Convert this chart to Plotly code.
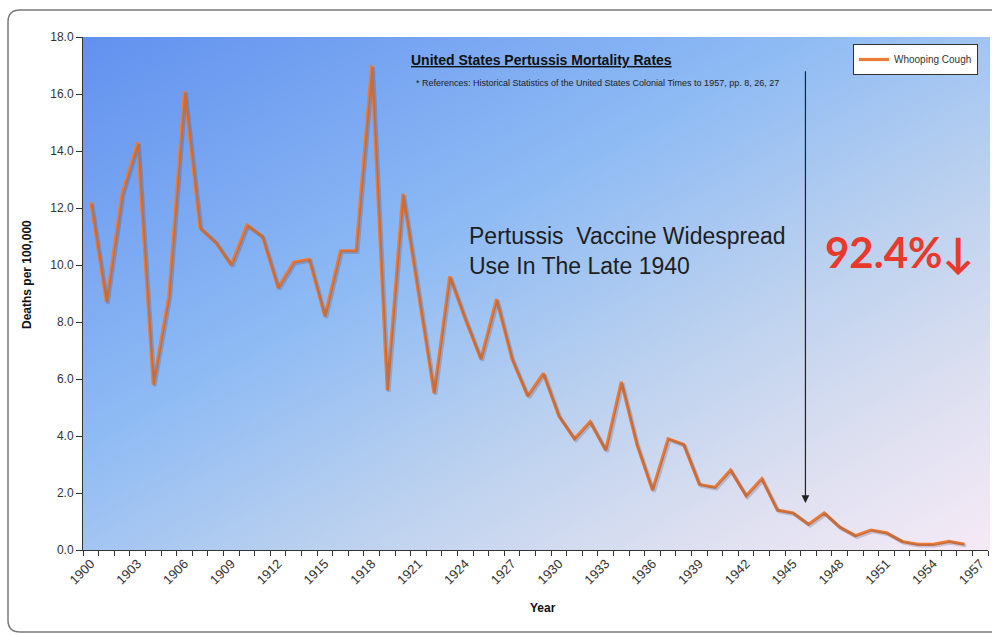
import base64
import plotly.graph_objects as go

# US pertussis (whooping cough) deaths per 100,000 population, 1900-1956
years = list(range(1900, 1957))
deaths = [
    12.2, 8.7, 12.5, 14.3, 5.8, 8.9, 16.1, 11.3, 10.8, 10.0,
    11.4, 11.0, 9.2, 10.1, 10.2, 8.2, 10.5, 10.5, 17.0, 5.6,
    12.5, 9.0, 5.5, 9.6, 8.1, 6.7, 8.8, 6.7, 5.4, 6.2,
    4.7, 3.9, 4.5, 3.5, 5.9, 3.7, 2.1, 3.9, 3.7, 2.3,
    2.2, 2.8, 1.9, 2.5, 1.4, 1.3, 0.9, 1.3, 0.8, 0.5,
    0.7, 0.6, 0.3, 0.2, 0.2, 0.3, 0.2,
]
tick_years = list(range(1900, 1958, 3))
y_ticks = [0, 2, 4, 6, 8, 10, 12, 14, 16, 18]

series_name = "Whooping Cough"
vaccine_year = 1945.8
arrow_top, arrow_bottom = 16.85, 1.65

FONT = "Liberation Sans, Arial, sans-serif"
LINE = "#EE7B35"
X_RANGE = [1899.5, 1957.5]
Y_RANGE = [0, 18]

# diagonal blue-to-lavender backdrop for the plotting area
svg = (
    '<svg xmlns="http://www.w3.org/2000/svg" width="905" height="513" '
    'viewBox="0 0 905 513" preserveAspectRatio="none">'
    '<defs><linearGradient id="g" x1="0" y1="0" x2="1" y2="1">'
    '<stop offset="0" stop-color="#6191ef"/>'
    '<stop offset="0.40" stop-color="#8fbbf4"/>'
    '<stop offset="0.62" stop-color="#b9d0ef"/>'
    '<stop offset="0.82" stop-color="#dcdff0"/>'
    '<stop offset="1" stop-color="#f6eaf6"/>'
    '</linearGradient></defs>'
    '<rect width="905" height="513" fill="url(#g)"/></svg>'
)
bg_uri = "data:image/svg+xml;base64," + base64.b64encode(svg.encode()).decode()

fig = go.Figure()

# soft drop shadow: the same series on overlay axes nudged ~1.5px right/down
fig.add_trace(go.Scatter(
    x=years, y=deaths, mode="lines", xaxis="x2", yaxis="y2",
    line=dict(color="rgba(60,60,90,0.22)", width=3.5),
    showlegend=False, hoverinfo="skip",
))
fig.add_trace(go.Scatter(
    x=years, y=deaths, mode="lines", name=series_name,
    line=dict(color=LINE, width=3.2),
))

# rounded outer frame in paper coordinates
W, H = 905.0, 513.0
def px(xp):
    return (xp - 83) / W
def py(yp):
    return (550 - yp) / H
x0, x1, y0, y1 = px(8), px(1010), py(10), py(632)
rx, ry = 12 / W, 12 / H
frame = (
    f"M {x0+rx},{y0} L {x1},{y0} L {x1},{y1} L {x0+rx},{y1} "
    f"Q {x0},{y1} {x0},{y1+ry} L {x0},{y0-ry} Q {x0},{y0} {x0+rx},{y0} Z"
)

fig.update_layout(
    width=992, height=635,
    margin=dict(l=83, r=4, t=37, b=85),
    paper_bgcolor="white",
    plot_bgcolor="rgba(0,0,0,0)",
    font=dict(family=FONT, color="#333333", size=12),
    showlegend=True,
    legend=dict(
        x=px(978), y=py(44), xanchor="right", yanchor="top",
        bgcolor="white", bordercolor="#333333", borderwidth=1,
        font=dict(size=10, color="#333333", family=FONT),
        itemwidth=30, tracegroupgap=0,
    ),
    xaxis=dict(
        range=X_RANGE, tickmode="array", tickvals=tick_years,
        ticktext=[str(y) for y in tick_years], tickangle=-45,
        ticks="", showgrid=False, zeroline=False,
        showline=True, linecolor="#333333", linewidth=1,
        tickfont=dict(size=13, color="#333333"),
        minor=dict(tickmode="linear", tick0=1899.5, dtick=1,
                   ticks="outside", ticklen=5, tickcolor="#333333",
                   showgrid=False),
    ),
    yaxis=dict(
        range=Y_RANGE, tickmode="array", tickvals=y_ticks,
        ticktext=[f"{v:.1f}" for v in y_ticks],
        ticks="outside", ticklen=6, tickcolor="#333333",
        showgrid=False, zeroline=False,
        showline=True, linecolor="#333333", linewidth=1,
        tickfont=dict(size=12, color="#333333"),
    ),
    xaxis2=dict(range=[X_RANGE[0] - 0.1, X_RANGE[1] - 0.1],
                overlaying="x", visible=False),
    yaxis2=dict(range=[Y_RANGE[0] + 0.055, Y_RANGE[1] + 0.055],
                overlaying="y", visible=False),
    images=[dict(
        source=bg_uri, xref="paper", yref="paper", x=0, y=1,
        sizex=px(990), sizey=1, sizing="stretch",
        xanchor="left", yanchor="top", layer="below",
    )],
    shapes=[dict(
        type="path", path=frame, xref="paper", yref="paper",
        line=dict(color="#7a7a7a", width=1.5), layer="below",
    )],
)

annotations = [
    dict(text='<span style="text-decoration:underline"><b>United States Pertussis Mortality Rates</b></span>',
         x=px(541), y=py(60), xanchor="center", yanchor="middle",
         font=dict(size=14, color="#111111")),
    dict(text="* References: Historical Statistics of the United States Colonial Times to 1957, pp. 8, 26, 27",
         x=px(414), y=py(83), xanchor="left", yanchor="middle",
         font=dict(size=9, color="#222222")),
    dict(text="Pertussis  Vaccine Widespread<br>Use In The Late 1940",
         x=px(467), y=py(251), xanchor="left", yanchor="middle", align="left",
         font=dict(size=23, color="#1e1e1e")),
    dict(text="<b>92.4%\u2193</b>",
         x=px(823), y=py(252), xanchor="left", yanchor="middle",
         font=dict(size=42, color="#E8392B", family="Lato, Liberation Sans, sans-serif")),
    dict(text="<b>Deaths per 100,000</b>", textangle=-90,
         x=px(27), y=py(275), xanchor="center", yanchor="middle",
         font=dict(size=12, color="#111111")),
    dict(text="<b>Year</b>",
         x=px(543), y=py(608), xanchor="center", yanchor="middle",
         font=dict(size=12, color="#111111")),
]
for a in annotations:
    a.update(xref="paper", yref="paper", showarrow=False)
    fig.add_annotation(**a)

# vaccine-era marker arrow
fig.add_annotation(
    x=vaccine_year, y=arrow_bottom, ax=vaccine_year, ay=arrow_top,
    xref="x", yref="y", axref="x", ayref="y", text="",
    showarrow=True, arrowhead=2, arrowsize=1.3, arrowwidth=1.2,
    arrowcolor="#222222",
)

fig.write_html("out.html")
